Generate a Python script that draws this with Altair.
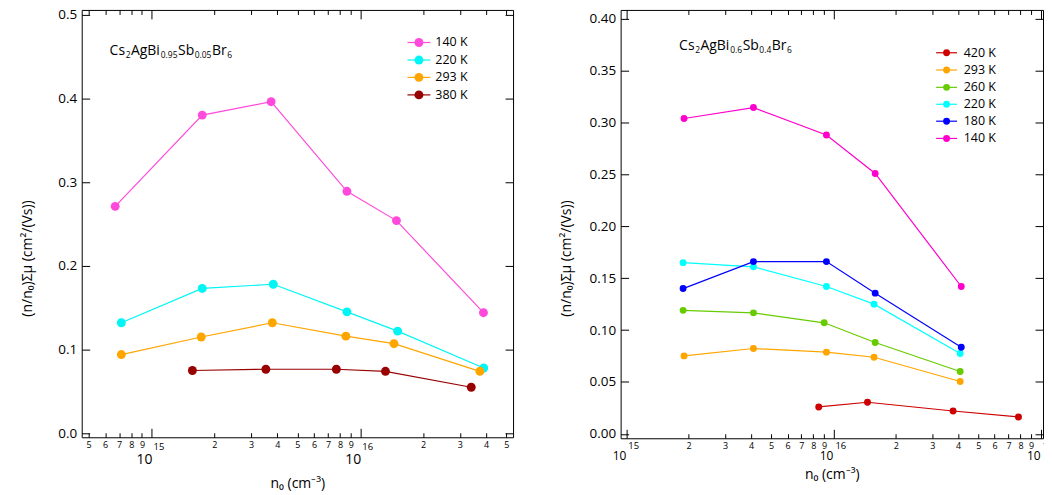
import altair as alt
import pandas as pd

FONT = "Open Sans"

# ---------------- left panel: Cs2AgBi0.95Sb0.05Br6 ----------------
L_LABELS = ["140 K", "220 K", "293 K", "380 K"]
L_COLORS = ["#FF4ADB", "#00F5F5", "#FFA500", "#990000"]
L_140_N = [6.7e14, 1.75e15, 3.74e15, 8.63e15, 1.49e16, 3.89e16]
L_140_V = [0.271, 0.380, 0.396, 0.289, 0.254, 0.144]
L_220_N = [7.17e14, 1.75e15, 3.83e15, 8.63e15, 1.51e16, 3.90e16]
L_220_V = [0.132, 0.173, 0.178, 0.145, 0.122, 0.078]
L_293_N = [7.17e14, 1.73e15, 3.79e15, 8.53e15, 1.45e16, 3.74e16]
L_293_V = [0.094, 0.115, 0.132, 0.116, 0.107, 0.074]
L_380_N = [1.57e15, 3.53e15, 7.68e15, 1.32e16, 3.40e16]
L_380_V = [0.075, 0.0765, 0.0765, 0.074, 0.055]
L_XTICKS = [5e14, 6e14, 7e14, 8e14, 9e14, 1e15, 2e15, 3e15, 4e15, 5e15, 6e15, 7e15,
            8e15, 9e15, 1e16, 2e16, 3e16, 4e16, 5e16]
L_MAJORS = [1e15, 1e16]
L_EXPS = ["15", "16"]
L_YTICKS = [0.0, 0.1, 0.2, 0.3, 0.4, 0.5]
L_FORMULA = ["Cs", "2", "AgBi", "0.95", "Sb", "0.05", "Br", "6"]

# ---------------- right panel: Cs2AgBi0.6Sb0.4Br6 ----------------
R_LABELS = ["420 K", "293 K", "260 K", "220 K", "180 K", "140 K"]
R_COLORS = ["#CC0000", "#FFA500", "#66CC00", "#00FFFF", "#0000FF", "#FF00CC"]
R_420_N = [8.49e15, 1.46e16, 3.78e16, 7.82e16]
R_420_V = [0.0259, 0.0304, 0.022, 0.0162]
R_293_N = [1.90e15, 4.11e15, 9.25e15, 1.57e16, 4.09e16]
R_293_V = [0.0751, 0.0822, 0.0787, 0.0738, 0.0504]
R_260_N = [1.88e15, 4.11e15, 9.02e15, 1.59e16, 4.09e16]
R_260_V = [0.119, 0.1166, 0.107, 0.088, 0.060]
R_220_N = [1.88e15, 4.11e15, 9.25e15, 1.57e16, 4.09e16]
R_220_V = [0.165, 0.161, 0.142, 0.125, 0.0774]
R_180_N = [1.88e15, 4.11e15, 9.25e15, 1.59e16, 4.14e16]
R_180_V = [0.140, 0.166, 0.166, 0.1356, 0.0835]
R_140_N = [1.90e15, 4.11e15, 9.25e15, 1.59e16, 4.14e16]
R_140_V = [0.304, 0.3145, 0.288, 0.251, 0.142]
R_XTICKS = [1e15, 2e15, 3e15, 4e15, 5e15, 6e15, 7e15, 8e15, 9e15, 1e16, 2e16, 3e16,
            4e16, 5e16, 6e16, 7e16, 8e16, 9e16, 1e17]
R_MAJORS = [1e15, 1e16, 1e17]
R_EXPS = ["15", "16", "17"]
R_YTICKS = [0.0, 0.05, 0.10, 0.15, 0.20, 0.25, 0.30, 0.35, 0.40]
R_FORMULA = ["Cs", "2", "AgBi", "0.6", "Sb", "0.4", "Br", "6"]

Y_TITLE = "(n/n\u2080)\u03a3\u03bc (cm\u00b2/(Vs))"
X_TITLE = "n\u2080 (cm\u207b\u00b3)"

# approximate advance widths (em) of the annotation font, used to lay out
# the chemical formula pieces one after another
CHAR_W = {"C": 0.635, "s": 0.49, "A": 0.64, "g": 0.56, "B": 0.65, "i": 0.26,
          "S": 0.55, "b": 0.615, "r": 0.415, ".": 0.27}
for _d in "0123456789":
    CHAR_W[_d] = 0.575


def text_w(t, size):
    return sum(CHAR_W.get(ch, 0.6) for ch in t) * size


def long_df(labels, ns, vs):
    rows = []
    for lab, n, v in zip(labels, ns, vs):
        for a, b in zip(n, v):
            rows.append({"s": lab, "n0": a, "v": b})
    return pd.DataFrame(rows)


L_DF = long_df(L_LABELS, [L_140_N, L_220_N, L_293_N, L_380_N],
               [L_140_V, L_220_V, L_293_V, L_380_V])
R_DF = long_df(R_LABELS, [R_420_N, R_293_N, R_260_N, R_220_N, R_180_N, R_140_N],
               [R_420_V, R_293_V, R_260_V, R_220_V, R_180_V, R_140_V])

IS_MAJOR = "abs(log(datum.value)/LN10 - round(log(datum.value)/LN10)) < 0.01"
ONE = alt.Data(values=[{}])


def panel(df, labels, colors, xdom, ydom, xticks, majors, exps, yticks, yfmt,
          w, h, pt_size, lw, formula, fx0, fy, leg_y, leg_x, x_title_y,
          major_y, major_fs, major_dx, exp_y):
    xs = alt.Scale(type="log", domain=xdom, nice=False, zero=False)
    ys = alt.Scale(domain=ydom, nice=False, zero=False)
    cs = alt.Scale(domain=labels, range=colors)

    bottom = alt.Axis(
        orient="bottom", values=xticks, domain=False, grid=False,
        labelExpr=f"({IS_MAJOR}) ? '' : format(datum.value / pow(10, floor(log(datum.value)/LN10 + 0.001)), '.0f')",
        tickSize={"condition": {"test": IS_MAJOR, "value": -9}, "value": -4.5},
        labelPadding=7.5, labelFontSize=9, labelBaseline="top",
        labelFlush=False, labelOverlap=False, labelBound=False,
        title=X_TITLE, titleFontSize=14, titleFontWeight="normal",
        titleY=x_title_y, titleBaseline="alphabetic",
    )
    left = alt.Axis(
        orient="left", values=yticks, format=yfmt, domain=False, grid=False,
        tickSize=alt.ExprRef(expr="-8"), labelPadding=13, labelFontSize=13.5,
        labelFlush=False, labelOverlap=False,
        title=Y_TITLE, titleFontSize=14, titleFontWeight="normal",
        titleX=-50, titleY=249, titleBaseline="alphabetic", titleAngle=270,
    )
    top = alt.Axis(orient="top", values=xticks, domain=False, grid=False, labels=False,
                   tickSize={"condition": {"test": IS_MAJOR, "value": -9}, "value": -4.5},
                   title=None)
    right = alt.Axis(orient="right", values=yticks, domain=False, grid=False, labels=False,
                     tickSize=alt.ExprRef(expr="-8"), title=None)

    base = alt.Chart(df)
    lines = base.mark_line(strokeWidth=lw).encode(
        x=alt.X("n0:Q", scale=xs, axis=bottom),
        y=alt.Y("v:Q", scale=ys, axis=left),
        color=alt.Color("s:N", scale=cs, legend=None),
    )
    points = base.mark_point(filled=True, size=pt_size, opacity=1).encode(
        x=alt.X("n0:Q", scale=xs, axis=None),
        y=alt.Y("v:Q", scale=ys, axis=None),
        color=alt.Color("s:N", scale=cs, legend=None),
    )
    mirror = base.mark_point(opacity=0).encode(
        x=alt.X("n0:Q", scale=xs, axis=top),
        y=alt.Y("v:Q", scale=ys, axis=right),
    )
    mdf = pd.DataFrame({"m": majors, "e": exps})
    maj = alt.Chart(mdf).mark_text(align="right", baseline="alphabetic", fontSize=major_fs,
                                   font=FONT, dx=major_dx, color="black").encode(
        x=alt.X("m:Q", scale=xs, axis=None), y=alt.value(h + major_y), text=alt.value("10"))
    ex = alt.Chart(mdf).mark_text(align="left", baseline="alphabetic", fontSize=9.5,
                                  font=FONT, dx=2, color="black").encode(
        x=alt.X("m:Q", scale=xs, axis=None), y=alt.value(h + exp_y), text="e:N")

    layers = [lines, points, mirror, maj, ex]

    # formula annotation (alternating normal / subscript pieces)
    px = fx0
    for i, piece in enumerate(formula):
        sub = i % 2 == 1
        fs = 8.5 if sub else 14
        layers.append(alt.Chart(ONE).mark_text(
            align="left", baseline="alphabetic", font=FONT,
            fontSize=fs, color="black").encode(
            x=alt.value(px), y=alt.value(fy + (3.5 if sub else 0)), text=alt.value(piece)))
        px += text_w(piece, fs) + 0.4

    # legend
    for lab, col, yy in zip(labels, colors, leg_y):
        layers.append(alt.Chart(ONE).mark_rule(color=col, strokeWidth=lw).encode(
            x=alt.value(leg_x[0]), x2=alt.value(leg_x[1]), y=alt.value(yy)))
        layers.append(alt.Chart(ONE).mark_point(filled=True, color=col, size=pt_size,
                                                opacity=1).encode(
            x=alt.value((leg_x[0] + leg_x[1]) / 2), y=alt.value(yy)))
        layers.append(alt.Chart(ONE).mark_text(align="left", baseline="middle",
                                               fontSize=12.5, font=FONT, color="black").encode(
            x=alt.value(leg_x[2]), y=alt.value(yy), text=alt.value(lab)))

    return alt.layer(*layers).resolve_axis(x="independent", y="independent").properties(
        width=w, height=h)


left_chart = panel(
    L_DF, L_LABELS, L_COLORS, [4.632e14, 5.391e16], [-0.00476, 0.50559],
    L_XTICKS, L_MAJORS, L_EXPS, L_YTICKS, ".1f", 433, 429, 80, 1.2,
    L_FORMULA, 28, 45,
    [32.7, 50.3, 67.7, 85.3], [327, 350, 355], 50, 26.5, 14, 1, 13)

right_chart = panel(
    R_DF, R_LABELS, R_COLORS, [9.39e14, 1.027e17], [-0.00432, 0.40864],
    R_XTICKS, R_MAJORS, R_EXPS, R_YTICKS, ".2f", 424, 430, 48, 1.2,
    R_FORMULA, 58.7, 40,
    [43, 60.3, 77.7, 94.7, 111.7, 129], [316.7, 337.7, 344.4], 40.3, 21.5, 12, 0, 10.3)

chart = alt.hconcat(left_chart, right_chart, spacing=45).resolve_scale(
    color="independent"
).properties(
    padding={"left": 12, "top": -2, "right": -10, "bottom": 0}
).configure_view(stroke="black", strokeWidth=1).configure_axis(
    labelFont=FONT, titleFont=FONT, labelColor="black", titleColor="black",
    tickColor="black", tickWidth=1)

chart.save("out.html", embed_options={"renderer": "svg", "actions": False})
